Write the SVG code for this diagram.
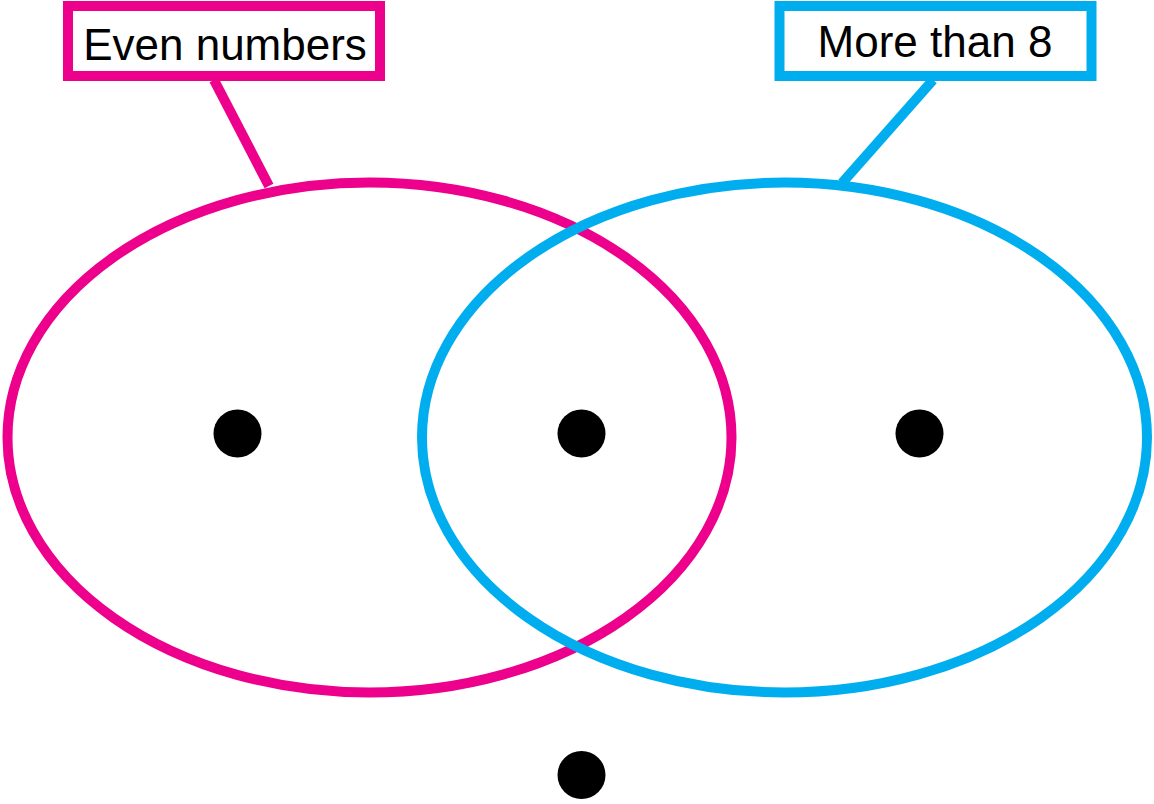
<svg xmlns="http://www.w3.org/2000/svg" width="1154" height="804" viewBox="0 0 1154 804">
<style>
.pink{fill:none;stroke:#EC008C;stroke-width:10}
.blue{fill:none;stroke:#00AEEF;stroke-width:10}
.box{fill:#fff}
.lbl{font-family:"Liberation Sans",Arial,sans-serif;font-size:44px;fill:#000;text-anchor:middle}
.dot{fill:#000}
</style>
<rect width="1154" height="804" fill="#fff"/>
<g id="connectors">
<line class="pink" x1="214" y1="80" x2="269" y2="186"/>
<line class="blue" x1="933" y1="80" x2="842" y2="183"/>
</g>
<g id="even-set"><ellipse class="pink" cx="369.5" cy="437.5" rx="362" ry="255"/></g>
<g id="more8-set"><ellipse class="blue" cx="784.5" cy="437.5" rx="362.5" ry="255"/></g>
<g id="even-label">
<rect class="box pink" x="68" y="6" width="312" height="70" style="fill:#fff"/>
<text class="lbl" x="225" y="60">Even numbers</text>
</g>
<g id="more8-label">
<rect class="box blue" x="779.5" y="6" width="312" height="70" style="fill:#fff"/>
<text class="lbl" x="935" y="57">More than 8</text>
</g>
<g id="dot-even"><circle class="dot" cx="237.5" cy="433.5" r="24"/></g>
<g id="dot-both"><circle class="dot" cx="581.5" cy="433.5" r="24"/></g>
<g id="dot-more8"><circle class="dot" cx="919.5" cy="433.5" r="24"/></g>
<g id="dot-neither"><circle class="dot" cx="581.5" cy="775" r="24"/></g>
</svg>
